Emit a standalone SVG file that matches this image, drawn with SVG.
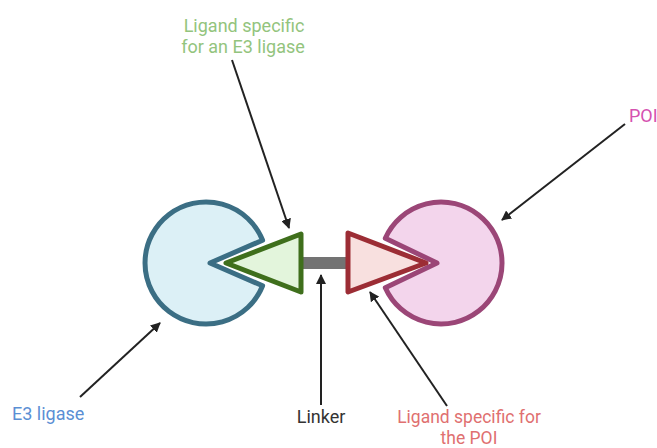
<svg xmlns="http://www.w3.org/2000/svg" width="657" height="448" viewBox="0 0 657 448">
<defs>
<marker id="ah" viewBox="0 0 10 10" refX="9" refY="5" markerWidth="10" markerHeight="10" markerUnits="userSpaceOnUse" orient="auto">
<path d="M0,0 L10,5 L0,10 Z" fill="#222"/>
</marker>
</defs>
<style>
.lbl{font-family:Roboto,"Liberation Sans",sans-serif;font-size:18px}
.conn{stroke:#222;stroke-width:2;fill:none;marker-end:url(#ah)}
.shape{stroke-width:5;stroke-linejoin:round}
</style>
<rect width="657" height="448" fill="#fff"/>
<g id="e3">
<path class="shape" d="M210 263 L262.6 240.2 A61 61 0 1 0 262.6 285.8 Z" fill="#dcf0f6" stroke="#3b6e84"/>
</g>
<g id="linker">
<rect x="302" y="257" width="46" height="12" fill="#737373"/>
</g>
<g id="ligand-e3">
<path class="shape" d="M226 263 L301 234 L301 292 Z" fill="#e3f5dc" stroke="#3f6f1c"/>
</g>
<g id="poi">
<path class="shape" d="M437 263 L385.3 238.2 A61 61 0 1 1 385.3 287.8 Z" fill="#f3d5ec" stroke="#9b4677"/>
</g>
<g id="ligand-poi">
<path class="shape" d="M348 233 L426 263 L348 292 Z" fill="#f8e0df" stroke="#9c2d35"/>
</g>
<g id="connectors">
<line class="conn" x1="232" y1="60" x2="289" y2="228"/>
<line class="conn" x1="80" y1="397" x2="160" y2="323"/>
<line class="conn" x1="321" y1="405" x2="321" y2="275"/>
<line class="conn" x1="447" y1="406" x2="370" y2="292"/>
<line class="conn" x1="625" y1="124" x2="502" y2="220"/>
</g>
<g id="labels">
<text class="lbl" text-anchor="middle" fill="#93c47d"><tspan x="244" y="32">Ligand specific</tspan><tspan x="243" y="53">for an E3 ligase</tspan></text>
<text class="lbl" x="12" y="420" fill="#5b8fd4">E3 ligase</text>
<text class="lbl" x="321" y="423" text-anchor="middle" fill="#333">Linker</text>
<text class="lbl" text-anchor="middle" fill="#e07070" style="font-size:17.5px"><tspan x="469" y="422.5">Ligand specific for</tspan><tspan x="469" y="443.5">the POI</tspan></text>
<text class="lbl" x="629" y="122" fill="#d552b0">POI</text>
</g>
</svg>
